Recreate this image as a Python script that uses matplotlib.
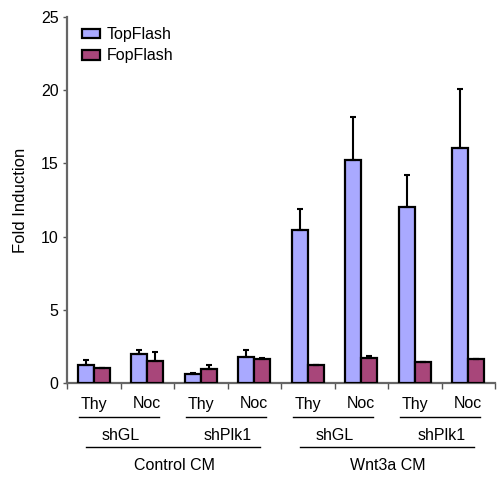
import matplotlib
matplotlib.use("Agg")
import matplotlib.pyplot as plt
import numpy as np
from matplotlib.transforms import blended_transform_factory

plt.rcParams['font.family'] = ['Liberation Sans', 'DejaVu Sans']

conditions = ["Thy", "Noc", "Thy", "Noc", "Thy", "Noc", "Thy", "Noc"]
shrna_labels = ["shGL", "shPlk1", "shGL", "shPlk1"]
cm_labels = ["Control CM", "Wnt3a CM"]
series_names = ["TopFlash", "FopFlash"]

top_vals = [1.2, 1.95, 0.6, 1.75, 10.45, 15.23, 12.04, 16.07]
top_err = [0.4, 0.3, 0.1, 0.5, 1.41, 2.96, 2.15, 3.99]
fop_vals = [1.05, 1.5, 0.95, 1.62, 1.23, 1.73, 1.41, 1.62]
fop_err = [0.0, 0.6, 0.25, 0.08, 0.02, 0.11, 0.04, 0.02]

top_color = "#a9a9ff"
fop_color = "#a8467a"

fig = plt.figure(figsize=(4.97, 4.79), dpi=100)
ax = fig.add_axes([67/497, 1-383/479, 1-67/497-0.004, (383-17)/479])

x = np.arange(len(conditions))
w = 0.3
ekw = dict(ecolor="black", elinewidth=1.5, capsize=2.5, capthick=1.5)
ax.bar(x - w/2, top_vals, w, color=top_color, edgecolor="black", linewidth=1.6,
       yerr=[np.zeros(len(x)), top_err], error_kw=ekw, label=series_names[0], zorder=3)
ax.bar(x + w/2, fop_vals, w, color=fop_color, edgecolor="black", linewidth=1.6,
       yerr=[np.zeros(len(x)), fop_err], error_kw=ekw, label=series_names[1], zorder=3)

ax.set_xlim(-0.5, len(x) - 0.5)
ax.set_ylim(0, 25)
ax.set_yticks([0, 5, 10, 15, 20, 25])
ax.tick_params(axis='y', labelsize=11.5, length=3, width=1, color="#555555", pad=3)
ax.set_xticks(np.arange(len(x) + 1) - 0.5)
ax.set_xticklabels([])
ax.tick_params(axis='x', length=4, width=1, color="#555555", direction='out')
for s in ["top", "right"]:
    ax.spines[s].set_visible(False)
for s in ["left", "bottom"]:
    ax.spines[s].set_color("#666666")
    ax.spines[s].set_linewidth(1.6)

ax.set_ylabel("Fold Induction", fontsize=12, labelpad=9)

leg = ax.legend(loc="upper left", bbox_to_anchor=(82/497, 1-27/479), bbox_transform=fig.transFigure,
                frameon=False, fontsize=11.5, handlelength=1.1, handleheight=0.55,
                handletextpad=0.45, labelspacing=0.4, borderaxespad=0, borderpad=0)

tr = blended_transform_factory(ax.transData, fig.transFigure)

def fy(py):
    return 1 - py / 479

for i, c in enumerate(conditions):
    fig.text(i, fy(404), c, transform=tr, ha="center", va="center", fontsize=11.5)

for j, s in enumerate(shrna_labels):
    a = 2 * j
    ax.plot([a - 0.28, a + 1.22], [fy(417)] * 2, transform=tr, color="black", lw=1, clip_on=False)
    fig.text(a + 0.5, fy(436), s, transform=tr, ha="center", va="center", fontsize=11.5)

for k, s in enumerate(cm_labels):
    a = 4 * k
    ax.plot([a - 0.15, a + 3.1], [fy(447)] * 2, transform=tr, color="black", lw=1, clip_on=False)
    fig.text(a + 1.5, fy(466), s, transform=tr, ha="center", va="center", fontsize=11.5)

fig.savefig("out.png", dpi=100)
